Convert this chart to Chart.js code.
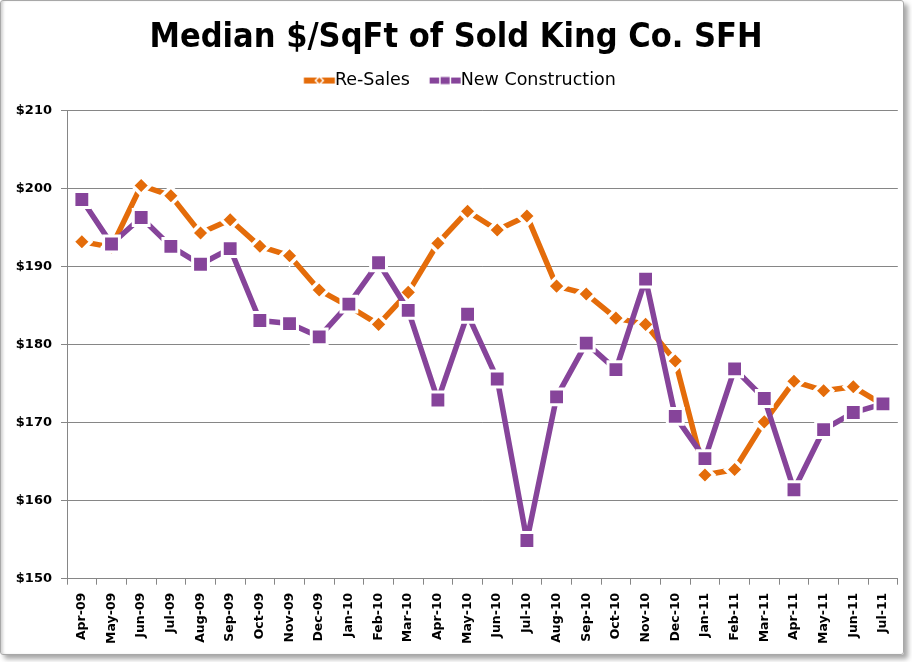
<!DOCTYPE html>
<html>
<head>
<meta charset="utf-8">
<script src="https://cdn.jsdelivr.net/npm/chart.js@4/dist/chart.umd.min.js"></script>
<style>
  html, body { margin: 0; padding: 0; background: #ffffff; }
  #wrap { position: relative; width: 912px; height: 662px; overflow: hidden; }
  #c { position: absolute; left: 0; top: 0; }
  #frame {
    position: absolute; left: 0; top: 0; width: 902px; height: 653px;
    border: 1px solid #a8a8a8; border-radius: 3px;
    box-shadow: 4px 4px 5px rgba(0,0,0,0.35), inset 3px 0 3px -1px rgba(0,0,0,0.18);
    pointer-events: none;
  }
</style>
</head>
<body>
<div id="wrap">
  <canvas id="c" width="912" height="662"></canvas>
  <div id="frame"></div>
</div>
<script>
const months = ["Apr-09","May-09","Jun-09","Jul-09","Aug-09","Sep-09","Oct-09","Nov-09","Dec-09",
  "Jan-10","Feb-10","Mar-10","Apr-10","May-10","Jun-10","Jul-10","Aug-10","Sep-10","Oct-10","Nov-10","Dec-10",
  "Jan-11","Feb-11","Mar-11","Apr-11","May-11","Jun-11","Jul-11"];
const reSales = [193.2,192.5,200.4,199.1,194.3,196.0,192.6,191.4,187.0,
  184.9,182.6,186.7,193.0,197.1,194.7,196.5,187.5,186.5,183.4,182.6,177.9,
  163.3,164.0,170.1,175.3,174.1,174.6,172.3];
const newConstruction = [198.6,192.9,196.3,192.6,190.3,192.3,183.1,182.7,181.0,
  185.2,190.5,184.4,172.9,183.9,175.6,154.9,173.3,180.2,176.8,188.4,170.8,
  165.4,176.9,173.1,161.4,169.1,171.3,172.4];
const yTicks = [150,160,170,180,190,200,210];
const titleText = "Median $/SqFt of Sold King Co. SFH";
const seriesNames = ["Re-Sales","New Construction"];

const ORANGE = "#E46C0A";
const PURPLE = "#86449A";
const GRID = "#868686";

// legend icons (symbol shifted right inside a wider transparent canvas)
function makeIcon(kind) {
  const W = 50, H = 14;
  const cv = document.createElement('canvas');
  cv.width = W; cv.height = H;
  const g = cv.getContext('2d');
  const cx = W / 2 + 8.2, cy = H / 2;
  const x0 = cx - 15.5;
  if (kind === 'orange') {
    g.fillStyle = ORANGE;
    g.fillRect(x0, cy - 3, 31, 6);
    g.beginPath();
    g.moveTo(cx - 5, cy); g.lineTo(cx, cy - 5); g.lineTo(cx + 5, cy); g.lineTo(cx, cy + 5); g.closePath();
    g.fillStyle = '#ffffff'; g.fill();
    g.beginPath();
    g.moveTo(cx - 3, cy); g.lineTo(cx, cy - 3); g.lineTo(cx + 3, cy); g.lineTo(cx, cy + 3); g.closePath();
    g.fillStyle = ORANGE; g.fill();
  } else {
    g.fillStyle = PURPLE;
    g.fillRect(x0, cy - 3, 31, 6);
    g.fillStyle = '#ffffff';
    g.fillRect(cx - 6, cy - 5, 12, 10);
    g.fillStyle = PURPLE;
    g.fillRect(cx - 4.5, cy - 3.5, 9, 7);
  }
  return cv;
}
const icons = [makeIcon('orange'), makeIcon('purple')];

const tickFont = { family: "'DejaVu Sans', sans-serif", weight: 'bold', size: 13 };

new Chart(document.getElementById('c'), {
  type: 'line',
  data: {
    labels: months,
    datasets: [
      {
        label: seriesNames[0],
        data: reSales,
        borderColor: ORANGE,
        backgroundColor: ORANGE,
        borderWidth: 5.5,
        borderJoinStyle: 'round',
        tension: 0,
        pointStyle: 'rectRot',
        pointRadius: 9,
        pointHoverRadius: 9,
        pointBackgroundColor: ORANGE,
        pointBorderColor: '#ffffff',
        pointBorderWidth: 3.5,
        order: 1
      },
      {
        label: seriesNames[1],
        data: newConstruction,
        borderColor: PURPLE,
        backgroundColor: PURPLE,
        borderWidth: 5.5,
        borderJoinStyle: 'round',
        tension: 0,
        pointStyle: 'rect',
        pointRadius: 11.2,
        pointHoverRadius: 11.2,
        pointBackgroundColor: PURPLE,
        pointBorderColor: '#ffffff',
        pointBorderWidth: 3,
        order: 0
      }
    ]
  },
  options: {
    responsive: false,
    animation: false,
    devicePixelRatio: 1,
    layout: { padding: { top: 0, left: 8, right: 8, bottom: 0 } },
    plugins: {
      title: {
        display: true,
        text: titleText,
        color: '#000000',
        font: { family: "'DejaVu Sans Condensed', 'DejaVu Sans', sans-serif", weight: 'bold', size: 34, lineHeight: 1.2 },
        padding: { top: 18, bottom: 1 },
        weight: 2000
      },
      legend: {
        display: true,
        position: 'top',
        weight: 1000,
        labels: {
          color: '#000000',
          font: { family: "'DejaVu Sans', sans-serif", size: 17.5 },
          usePointStyle: true,
          pointStyleWidth: 30,
          boxHeight: 17.5,
          padding: 12,
          sort: function(a, b) { return a.datasetIndex - b.datasetIndex; },
          generateLabels: function(chart) {
            const items = Chart.defaults.plugins.legend.labels.generateLabels(chart);
            items.forEach(function(it) { it.pointStyle = icons[it.datasetIndex]; });
            return items;
          }
        }
      },
      subtitle: {
        display: true,
        text: '',
        font: { size: 1, lineHeight: 1 },
        padding: { top: 10.3, bottom: 0 },
        weight: 500
      },
      tooltip: { enabled: false }
    },
    scales: {
      x: {
        offset: true,
        border: { display: true, color: GRID, width: 1 },
        grid: { display: true, offset: true, drawOnChartArea: false, drawTicks: true, tickLength: 6, color: GRID },
        ticks: {
          autoSkip: false, maxRotation: 90, minRotation: 90, padding: 8,
          color: '#000000',
          font: { family: "'DejaVu Sans', sans-serif", weight: 'bold', size: 12.5 }
        },
        afterFit: function(s) { s.height = 83.3; }
      },
      y: {
        min: 150, max: 210,
        border: { display: true, color: GRID, width: 1 },
        grid: { display: true, drawOnChartArea: true, drawTicks: true, tickLength: 6, color: GRID },
        ticks: {
          stepSize: 10, padding: 9, color: '#000000', font: tickFont,
          callback: function(v) { return yTicks.indexOf(v) >= 0 ? '$' + v : ''; }
        },
        afterFit: function(s) { s.width = 59; }
      }
    }
  }
});
</script>
</body>
</html>
